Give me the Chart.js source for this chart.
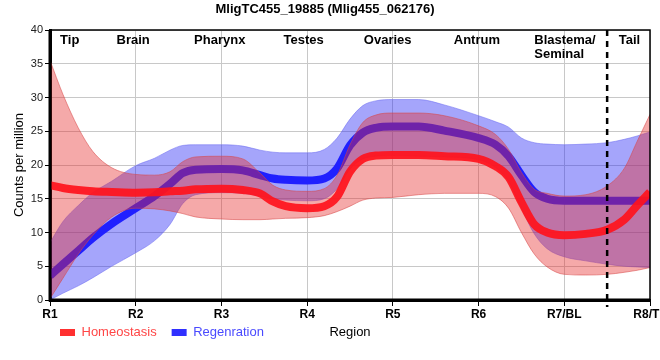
<!DOCTYPE html>
<html><head><meta charset="utf-8">
<script src="https://cdn.jsdelivr.net/npm/chart.js@4/dist/chart.umd.min.js"></script>
<style>html,body{margin:0;padding:0;background:#fff}#wrap{width:660px;height:360px}</style>
</head><body><div id="wrap"><canvas id="c" width="660" height="360"></canvas></div>
<script>
const titleText = 'MligTC455_19885 (Mlig455_062176)';
const tickLabels = ['R1','R2','R3','R4','R5','R6','R7/BL','R8/TL'];
const regionNames = ['Tip','Brain','Pharynx','Testes','Ovaries','Antrum','Blastema/\nSeminal','Tail'];
const regionPos = [1.23,1.97,2.98,3.96,4.94,5.98,6.65,7.76];
const regionAlign = ['center','center','center','center','center','center','left','center'];
const boundaryPos = 7.5;

const xs = [1,1.15,1.33,1.5,1.72,2,2.22,2.4,2.55,2.7,3,3.25,3.45,3.6,3.75,4,4.2,4.35,4.5,4.65,4.8,5,5.3,5.6,6,6.2,6.35,6.5,6.65,6.8,7,7.25,7.5,7.7,7.85,8];
const homeostasis      = [17.0,16.6,16.3,16.1,16.0,15.9,15.95,16.1,16.2,16.4,16.5,16.3,15.8,14.6,13.9,13.6,13.9,15.3,19.0,20.9,21.4,21.5,21.5,21.3,20.9,19.8,18.2,14.5,11.2,10.0,9.6,9.8,10.4,11.9,14.0,16.0];
const homeostasisUpper = [35.5,30.5,25.5,22.0,19.6,18.6,18.5,19.0,20.5,21.2,21.3,20.9,18.8,17.0,16.3,16.1,16.5,18.5,23.0,26.3,27.4,27.7,27.7,27.3,25.8,24.5,22.3,18.9,16.4,15.8,15.4,15.6,16.9,19.5,23.5,27.5];
const homeostasisLower = [0.2,3.2,6.8,9.6,12.3,13.6,13.5,13.2,12.8,12.3,12.0,11.9,11.9,12.0,12.1,12.2,12.5,13.1,13.9,14.8,15.1,15.2,15.6,15.8,15.8,15.3,13.6,10.0,6.8,4.9,3.8,3.7,3.8,4.1,4.4,4.8];
const regeneration      = [3.6,5.3,7.3,9.2,11.3,13.6,15.4,17.2,18.8,19.3,19.4,19.2,18.5,18.0,17.8,17.7,18.0,19.5,22.9,24.8,25.5,25.7,25.7,25.1,24.0,23.0,21.3,18.5,16.0,15.0,14.7,14.7,14.7,14.7,14.7,14.7];
const regenerationUpper = [8.5,11.6,14.0,15.9,17.6,19.9,21.0,22.2,22.9,23.0,23.0,22.8,22.2,21.9,21.8,21.8,22.3,24.0,26.8,28.8,29.5,29.7,29.7,28.9,27.3,26.4,25.6,24.0,23.3,23.1,23.0,23.1,23.3,23.8,24.3,24.9];
const regenerationLower = [0.0,1.0,2.1,3.3,5.0,7.0,8.8,11.2,14.3,15.6,15.9,15.8,15.4,15.0,14.8,14.7,15.0,16.5,19.4,20.9,21.3,21.4,21.3,21.2,20.8,19.6,17.6,13.6,9.8,7.6,6.4,5.8,5.3,5.0,4.9,4.8];

const pts = arr => arr.map((v,i)=>({x:xs[i], y:v}));
const FONT = "'Liberation Sans', Arial, sans-serif";

const lineDs = (label, data, color, bg) => ({
  label, data: pts(data), borderColor: color, backgroundColor: bg, borderWidth: 8,
  pointRadius: 0, fill: false, cubicInterpolationMode: 'monotone', borderCapStyle: 'butt'
});
const bandDs = (label, data, edge, fill, fillColor) => ({
  label, data: pts(data), borderColor: edge, backgroundColor: fillColor, borderWidth: 1,
  pointRadius: 0, fill: fill, cubicInterpolationMode: 'monotone'
});

const overlay = {
  id: 'overlay',
  afterLayout(chart) {
    if (chart.legend) { chart.legend.left = 45; chart.legend.top = 311; }
  },
  afterDatasetsDraw(chart) {
    const {ctx, chartArea: a, scales: {x, y}} = chart;
    ctx.save();
    ctx.strokeStyle = '#000';
    ctx.lineWidth = 1.5;
    ctx.beginPath();
    ctx.moveTo(a.left, a.top); ctx.lineTo(a.right, a.top); ctx.lineTo(a.right, a.bottom);
    ctx.stroke();
    ctx.lineWidth = 3;
    ctx.beginPath();
    ctx.moveTo(a.left, a.top); ctx.lineTo(a.left, a.bottom); ctx.lineTo(a.right, a.bottom);
    ctx.stroke();
    const bx = x.getPixelForValue(boundaryPos);
    ctx.lineWidth = 2.5;
    ctx.setLineDash([6,5]);
    ctx.beginPath();
    ctx.moveTo(bx, a.top); ctx.lineTo(bx, a.bottom + 7);
    ctx.stroke();
    ctx.setLineDash([]);
    ctx.fillStyle = '#000';
    ctx.font = "bold 13px " + FONT;
    ctx.textBaseline = 'middle';
    regionNames.forEach((n, i) => {
      const px = x.getPixelForValue(regionPos[i]);
      ctx.textAlign = regionAlign[i];
      n.split('\n').forEach((ln, j) => {
        ctx.fillText(ln, px, a.top + 10 + j * 14);
      });
    });
    ctx.font = "13px " + FONT;
    ctx.textAlign = 'center';
    ctx.fillText('Region', (a.left + a.right) / 2, 332);
    ctx.restore();
  }
};

new Chart(document.getElementById('c'), {
  type: 'line',
  data: {
    datasets: [
      lineDs('Homeostasis', homeostasis, 'rgba(255,18,28,0.92)', '#ff3333'),
      bandDs('Homeostasis upper', homeostasisUpper, 'rgba(215,70,70,0.55)', false, 'rgba(230,40,40,0.4)'),
      bandDs('Homeostasis lower', homeostasisLower, 'rgba(215,70,70,0.55)', '-1', 'rgba(230,40,40,0.4)'),
      lineDs('Regenration', regeneration, '#2020ff', '#3333ff'),
      bandDs('Regenration upper', regenerationUpper, 'rgba(110,110,240,0.55)', false, 'rgba(40,40,245,0.42)'),
      bandDs('Regenration lower', regenerationLower, 'rgba(110,110,240,0.55)', '-1', 'rgba(40,40,245,0.42)')
    ]
  },
  options: {
    responsive: false, animation: false, devicePixelRatio: 1,
    layout: { padding: { left: 0, right: 10, top: 0, bottom: 0 } },
    plugins: {
      title: { display: true, text: titleText, color: '#000', font: { family: FONT, size: 13, weight: 'bold' }, padding: { top: 2, bottom: 12.4 } },
      tooltip: { enabled: false },
      legend: {
        position: 'bottom', align: 'start',
        labels: {
          boxWidth: 15, boxHeight: 7, padding: 15, font: { family: FONT, size: 13 },
          generateLabels(chart) {
            const items = Chart.defaults.plugins.legend.labels.generateLabels(chart);
            return items.filter(i => i.datasetIndex === 0 || i.datasetIndex === 3).map(i => ({
              ...i, lineWidth: 0, strokeStyle: 'rgba(0,0,0,0)',
              fillStyle: i.datasetIndex === 0 ? '#ff3030' : '#3030ff',
              fontColor: i.datasetIndex === 0 ? '#ff4646' : '#4a4aff'
            }));
          }
        }
      }
    },
    scales: {
      x: {
        type: 'linear', min: 1, max: 8,
        ticks: { stepSize: 1, autoSkip: false, maxRotation: 0, padding: 1, color: '#000',
          font: { family: FONT, size: 12, weight: 'bold' },
          callback: v => tickLabels[Math.round(v) - 1] },
        grid: { color: '#c8c8c8', tickColor: '#000', tickLength: 6, lineWidth: 1 },
        border: { display: true, color: '#000', width: 3 },
        afterFit(s) { s.paddingLeft = 0; s.paddingRight = 0; s.height = 60 - (s.chart.legend ? s.chart.legend.height : 0); }
      },
      y: {
        min: 0, max: 40,
        ticks: { stepSize: 5, padding: 2, color: '#222', font: { family: FONT, size: 11 } },
        grid: { color: '#c8c8c8', tickColor: '#000', tickLength: 5, lineWidth: 1 },
        border: { display: true, color: '#000', width: 3 },
        title: { display: true, text: 'Counts per million', color: '#000', font: { family: FONT, size: 13 }, padding: { top: 12, bottom: 0 } },
        afterFit(s) { s.width = 50; s.paddingTop = 0; s.paddingBottom = 0; }
      }
    }
  },
  plugins: [overlay]
});
</script></body></html>
